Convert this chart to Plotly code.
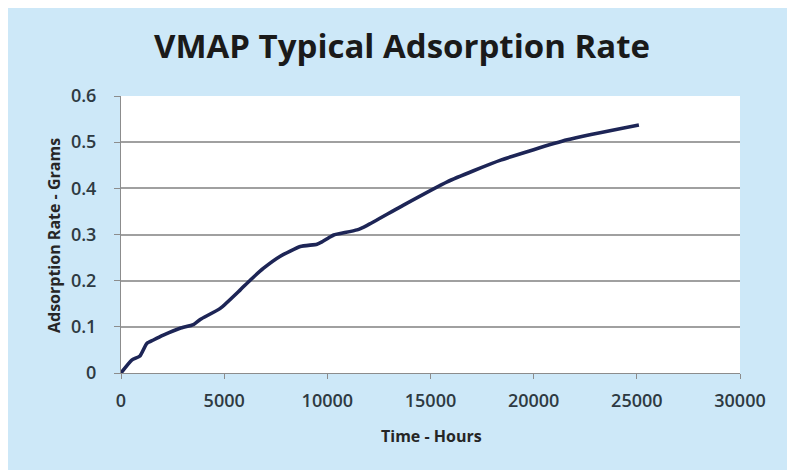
import plotly.graph_objects as go

hours = [0, 520, 920, 1250, 1570, 2050, 2860, 3510, 3840, 4810, 5780, 6260, 6910,
         7720, 8690, 9500, 9740, 10150, 10310, 11440, 11930, 13540, 15810, 18400,
         21630, 25100]
grams = [0, 0.028, 0.037, 0.064, 0.0715, 0.082, 0.097, 0.105, 0.116, 0.140, 0.180,
         0.201, 0.227, 0.253, 0.274, 0.279, 0.284, 0.295, 0.299, 0.310, 0.320, 0.360,
         0.414, 0.461, 0.505, 0.537]

title_text = "VMAP Typical Adsorption Rate"
x_title = "Time - Hours"
y_title = "Adsorption Rate - Grams"
x_ticks = [0, 5000, 10000, 15000, 20000, 25000, 30000]
y_ticks = [0, 0.1, 0.2, 0.3, 0.4, 0.5, 0.6]
y_ticktext = ["0", "0.1", "0.2", "0.3", "0.4", "0.5", "0.6"]

FONT = "Open Sans"
OFF = 8  # page body margin
W, H = 795 - OFF, 470 - OFF
L, R, T, B = 113, 55, 88, 97
pw, ph = W - L - R, H - T - B

def px(x):
    return (x - OFF - L) / pw

def py(y):
    return (H - B - (y - OFF)) / ph

fig = go.Figure()
fig.add_trace(go.Scatter(
    x=hours, y=grams, mode="lines",
    line=dict(color="#1d2556", width=3.6, shape="spline", smoothing=0.5),
    hoverinfo="skip", showlegend=False,
))

fig.add_shape(type="rect", xref="paper", yref="paper",
              x0=px(3), x1=px(788), y0=py(490), y1=py(5),
              fillcolor="#cde8f8", line=dict(color="#a9bccb", width=2), layer="below")
fig.add_shape(type="rect", xref="paper", yref="paper",
              x0=0, x1=1, y0=0, y1=1,
              fillcolor="#ffffff", line=dict(width=0), layer="below")

ann = dict(xref="paper", yref="paper", showarrow=False, xanchor="center", yanchor="middle")
fig.add_annotation(text="<b>" + title_text + "</b>", x=px(402), y=py(45),
                   font=dict(family=FONT, size=33, color="#1a1a1a"), **ann)
fig.add_annotation(text="<b>" + x_title + "</b>", x=px(431), y=py(436),
                   font=dict(family=FONT, size=16, color="#262626"), **ann)
fig.add_annotation(text="<b>" + y_title + "</b>", x=px(54), y=py(236), textangle=-90,
                   font=dict(family=FONT, size=16, color="#262626"), **ann)

fig.update_layout(
    width=W, height=H,
    margin=dict(l=L, r=R, t=T, b=B),
    paper_bgcolor="#ffffff",
    plot_bgcolor="rgba(0,0,0,0)",
    font=dict(family=FONT, color="#333333"),
    xaxis=dict(
        range=[0, 30000], tickvals=x_ticks, ticktext=[str(v) for v in x_ticks],
        showgrid=False, zeroline=False, showline=True, linecolor="#8c8c8c", linewidth=1,
        ticks="outside", ticklen=5, tickcolor="#8c8c8c",
        tickfont=dict(family=FONT, size=18, color="#2e3a42", weight=600),
        ticklabelstandoff=6,
    ),
    yaxis=dict(
        range=[0, 0.6], tickvals=y_ticks, ticktext=y_ticktext,
        showgrid=True, gridcolor="#a0a0a0", gridwidth=1.5,
        zeroline=False, showline=True, linecolor="#8c8c8c", linewidth=1,
        ticks="outside", ticklen=6, tickcolor="#8c8c8c",
        tickfont=dict(family=FONT, size=18, color="#2e3a42", weight=600),
        ticklabelstandoff=14,
    ),
)

fig.write_html("out.html")
